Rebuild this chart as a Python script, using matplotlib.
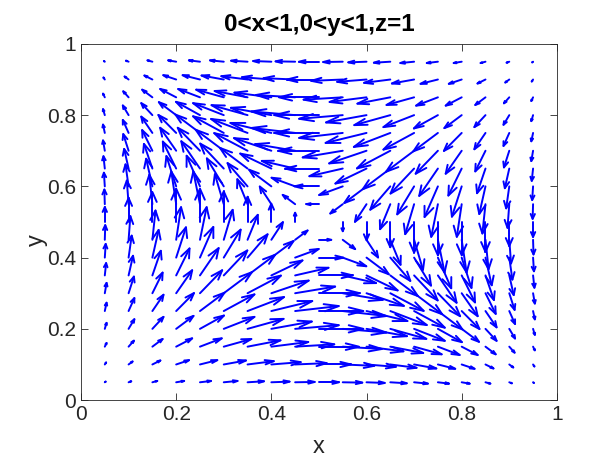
import numpy as np
import matplotlib.pyplot as plt
from matplotlib.collections import LineCollection

plt.rcParams['font.family'] = ['Liberation Sans', 'DejaVu Sans']

# grid: 19 x 19 points, 0.05 .. 0.95
xs = [0.05, 0.10, 0.15, 0.20, 0.25, 0.30, 0.35, 0.40, 0.45, 0.50,
      0.55, 0.60, 0.65, 0.70, 0.75, 0.80, 0.85, 0.90, 0.95]
ys = xs

# horizontal component, rows go from y=0.05 (bottom) to y=0.95 (top)
U = [
    [.02, .06, .11, .18, .25, .31, .37, .41, .44, .45, .44, .41, .37, .31, .25, .18, .11, .06, .02],
    [.03, .09, .18, .29, .39, .50, .59, .66, .71, .72, .71, .66, .59, .50, .39, .29, .18, .09, .03],
    [.04, .12, .23, .36, .49, .62, .74, .83, .88, .90, .88, .83, .74, .62, .49, .36, .23, .12, .04],
    [.04, .13, .25, .39, .54, .69, .81, .91, .98, 1.0, .98, .91, .81, .69, .54, .39, .25, .13, .04],
    [.04, .13, .25, .40, .55, .69, .82, .92, .98, 1.0, .98, .92, .82, .69, .55, .40, .25, .13, .04],
    [.04, .12, .23, .36, .50, .63, .75, .84, .90, .92, .90, .84, .75, .63, .50, .36, .23, .12, .04],
    [.03, .10, .19, .30, .42, .53, .62, .70, .75, .76, .75, .70, .62, .53, .42, .30, .19, .10, .03],
    [.02, .07, .14, .22, .30, .38, .45, .50, .53, .55, .53, .50, .45, .38, .30, .22, .14, .07, .02],
    [.01, .04, .07, .11, .15, .20, .23, .26, .28, .28, .28, .26, .23, .20, .15, .11, .07, .04, .01],
    [0, 0, 0, 0, 0, 0, 0, 0, 0, 0, 0, 0, 0, 0, 0, 0, 0, 0, 0],
    [-.01, -.04, -.07, -.11, -.15, -.20, -.23, -.26, -.28, -.28, -.28, -.26, -.23, -.20, -.15, -.11, -.07, -.04, -.01],
    [-.02, -.07, -.14, -.22, -.30, -.38, -.45, -.50, -.53, -.55, -.53, -.50, -.45, -.38, -.30, -.22, -.14, -.07, -.02],
    [-.03, -.10, -.19, -.30, -.42, -.53, -.62, -.70, -.75, -.76, -.75, -.70, -.62, -.53, -.42, -.30, -.19, -.10, -.03],
    [-.04, -.12, -.23, -.36, -.50, -.63, -.75, -.84, -.90, -.92, -.90, -.84, -.75, -.63, -.50, -.36, -.23, -.12, -.04],
    [-.04, -.13, -.25, -.40, -.55, -.69, -.82, -.92, -.98, -1.0, -.98, -.92, -.82, -.69, -.55, -.40, -.25, -.13, -.04],
    [-.04, -.13, -.25, -.39, -.54, -.69, -.81, -.91, -.98, -1.0, -.98, -.91, -.81, -.69, -.54, -.39, -.25, -.13, -.04],
    [-.04, -.12, -.23, -.36, -.49, -.62, -.74, -.83, -.88, -.90, -.88, -.83, -.74, -.62, -.49, -.36, -.23, -.12, -.04],
    [-.03, -.09, -.18, -.29, -.39, -.50, -.59, -.66, -.71, -.72, -.71, -.66, -.59, -.50, -.39, -.29, -.18, -.09, -.03],
    [-.02, -.06, -.11, -.18, -.25, -.31, -.37, -.41, -.44, -.45, -.44, -.41, -.37, -.31, -.25, -.18, -.11, -.06, -.02],
]

# vertical component
V = [
    [.02, .03, .04, .04, .04, .04, .03, .02, .01, 0, -.01, -.02, -.03, -.04, -.04, -.04, -.04, -.03, -.02],
    [.06, .09, .12, .13, .13, .12, .10, .07, .04, 0, -.04, -.07, -.10, -.12, -.13, -.13, -.12, -.09, -.06],
    [.11, .18, .23, .25, .25, .23, .19, .14, .07, 0, -.07, -.14, -.19, -.23, -.25, -.25, -.23, -.18, -.11],
    [.18, .29, .36, .39, .40, .36, .30, .22, .11, 0, -.11, -.22, -.30, -.36, -.40, -.39, -.36, -.29, -.18],
    [.25, .39, .49, .54, .55, .50, .42, .30, .15, 0, -.15, -.30, -.42, -.50, -.55, -.54, -.49, -.39, -.25],
    [.31, .50, .62, .69, .69, .63, .53, .38, .20, 0, -.20, -.38, -.53, -.63, -.69, -.69, -.62, -.50, -.31],
    [.37, .59, .74, .81, .82, .75, .62, .45, .23, 0, -.23, -.45, -.62, -.75, -.82, -.81, -.74, -.59, -.37],
    [.41, .66, .83, .91, .92, .84, .70, .50, .26, 0, -.26, -.50, -.70, -.84, -.92, -.91, -.83, -.66, -.41],
    [.44, .71, .88, .98, .98, .90, .75, .53, .28, 0, -.28, -.53, -.75, -.90, -.98, -.98, -.88, -.71, -.44],
    [.45, .72, .90, 1.0, 1.0, .92, .76, .55, .28, 0, -.28, -.55, -.76, -.92, -1.0, -1.0, -.90, -.72, -.45],
    [.44, .71, .88, .98, .98, .90, .75, .53, .28, 0, -.28, -.53, -.75, -.90, -.98, -.98, -.88, -.71, -.44],
    [.41, .66, .83, .91, .92, .84, .70, .50, .26, 0, -.26, -.50, -.70, -.84, -.92, -.91, -.83, -.66, -.41],
    [.37, .59, .74, .81, .82, .75, .62, .45, .23, 0, -.23, -.45, -.62, -.75, -.82, -.81, -.74, -.59, -.37],
    [.31, .50, .62, .69, .69, .63, .53, .38, .20, 0, -.20, -.38, -.53, -.63, -.69, -.69, -.62, -.50, -.31],
    [.25, .39, .49, .54, .55, .50, .42, .30, .15, 0, -.15, -.30, -.42, -.50, -.55, -.54, -.49, -.39, -.25],
    [.18, .29, .36, .39, .40, .36, .30, .22, .11, 0, -.11, -.22, -.30, -.36, -.40, -.39, -.36, -.29, -.18],
    [.11, .18, .23, .25, .25, .23, .19, .14, .07, 0, -.07, -.14, -.19, -.23, -.25, -.25, -.23, -.18, -.11],
    [.06, .09, .12, .13, .13, .12, .10, .07, .04, 0, -.04, -.07, -.10, -.12, -.13, -.13, -.12, -.09, -.06],
    [.02, .03, .04, .04, .04, .04, .03, .02, .01, 0, -.01, -.02, -.03, -.04, -.04, -.04, -.04, -.03, -.02],
]

X, Y = np.meshgrid(xs, ys)
u = np.array(U)
v = np.array(V)

# matlab style autoscale (extra factor) and open arrow heads
n = np.sqrt(X.size)
delx = (X.max() - X.min()) / n
dely = (Y.max() - Y.min()) / n
length = np.sqrt((u**2 + v**2) / (delx**2 + dely**2))
s = 1.55 * 0.9 / length.max()
u = u * s
v = v * s

alpha, beta = 0.33, 0.33
segs = []
for x0, y0, du, dv in zip(X.ravel(), Y.ravel(), u.ravel(), v.ravel()):
    tx, ty = x0 + du, y0 + dv
    segs.append([(x0, y0), (tx, ty)])
    segs.append([(tx - alpha * (du + beta * dv), ty - alpha * (dv - beta * du)),
                 (tx, ty),
                 (tx - alpha * (du - beta * dv), ty - alpha * (dv + beta * du))])

fig = plt.figure(figsize=(6.16, 4.62), dpi=100)
ax = fig.add_axes([0.1315, 0.134, 0.7725, 0.771])
ax.add_collection(LineCollection(segs, colors='#0000ff', linewidths=1.4, capstyle='round'))
ax.set_xlim(0, 1)
ax.set_ylim(0, 1)
ax.set_xticks([0, 0.2, 0.4, 0.6, 0.8, 1])
ax.set_xticklabels(['0', '0.2', '0.4', '0.6', '0.8', '1'])
ax.set_yticks([0, 0.2, 0.4, 0.6, 0.8, 1])
ax.set_yticklabels(['0', '0.2', '0.4', '0.6', '0.8', '1'])
ax.tick_params(direction='in', top=True, right=True, labelsize=15, length=5,
               color='#262626', labelcolor='#262626', width=0.6)
for sp in ax.spines.values():
    sp.set_color('#262626')
    sp.set_linewidth(0.6)
ax.set_xlabel('x', fontsize=17, color='#262626', labelpad=9)
ax.set_ylabel('y', fontsize=17, color='#262626')
ax.yaxis.set_label_coords(-0.07, 0.45)
ax.set_title('0<x<1,0<y<1,z=1', fontsize=17.5, fontweight='bold', pad=9)

fig.savefig('out.png', dpi=100)
